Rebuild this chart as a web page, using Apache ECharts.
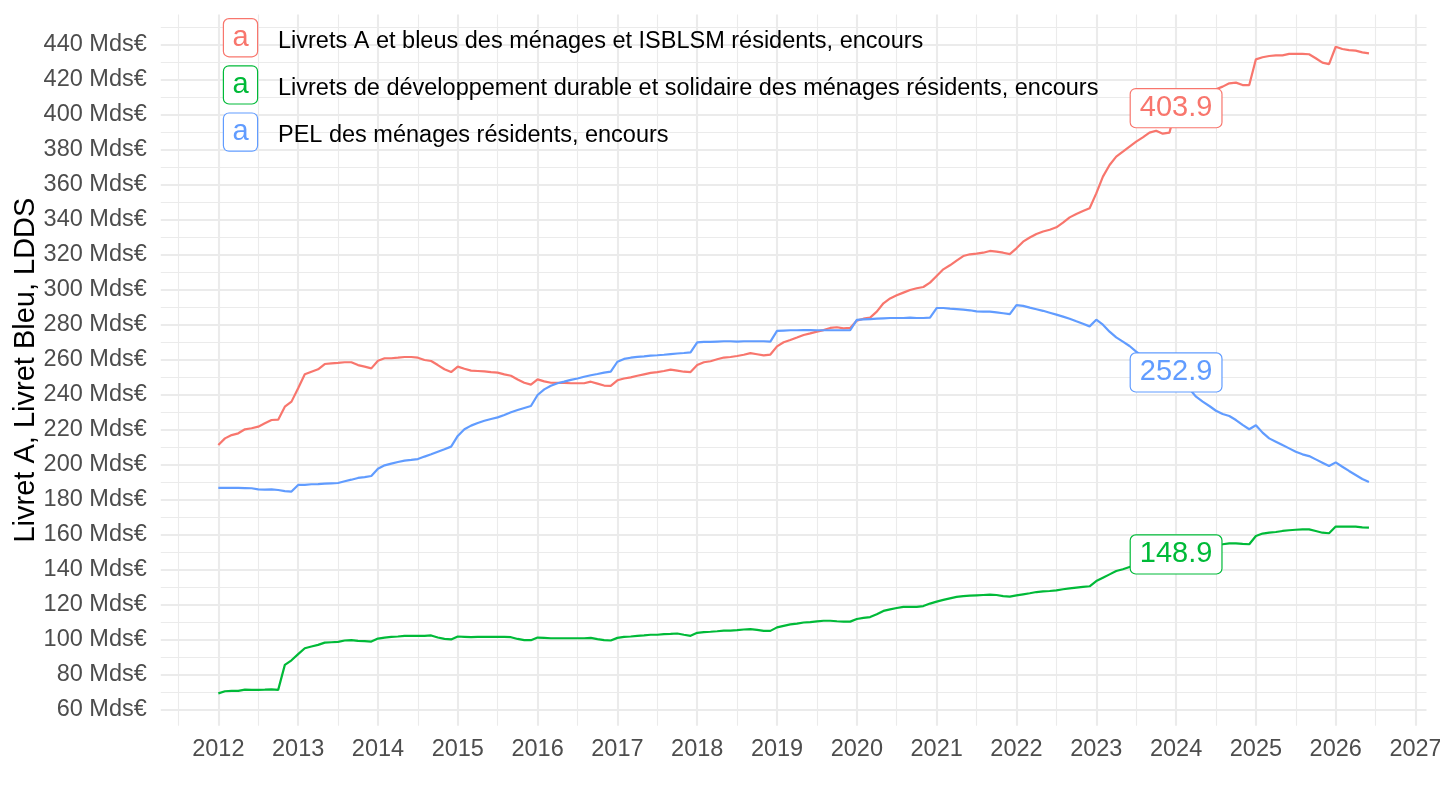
<!DOCTYPE html>
<html>
<head>
<meta charset="utf-8">
<title>Livret A, Livret Bleu, LDDS</title>
<script src="https://cdn.jsdelivr.net/npm/echarts@6.0.0/dist/echarts.min.js"></script>
<style>
    html, body { margin: 0; padding: 0; background: #fff; }
    #encoursChart { width: 1440px; height: 810px; }
</style>
</head>
<body>
<div id="encoursChart"></div>
<script>
// monthly series, first point = janvier 2012
var startYear = 2012;

var seriesNames = [
    'Livrets A et bleus des ménages et ISBLSM résidents, encours',
    'Livrets de développement durable et solidaire des ménages résidents, encours',
    'PEL des ménages résidents, encours'
];
var seriesColors = ['#F8766D', '#00BA38', '#619CFF'];

var livretA = [
    211.4, 215.2, 217.1, 218.1, 220.4, 221.0, 221.9, 223.8, 225.7, 225.9, 233.3, 236.2,
    243.9, 251.8, 253.3, 254.7, 257.7, 258.1, 258.3, 258.7, 258.7, 257.1, 256.2, 255.2,
    259.6, 261.0, 261.0, 261.3, 261.7, 261.7, 261.3, 260.0, 259.4, 257.1, 254.7, 253.1,
    256.2, 255.0, 253.9, 253.7, 253.5, 253.1, 252.8, 251.8, 251.0, 248.9, 247.0, 245.9,
    248.9, 247.8, 247.0, 246.9, 246.9, 246.7, 246.7, 246.7, 247.6, 246.5, 245.4, 245.2,
    248.4, 249.4, 250.1, 251.0, 251.8, 252.6, 253.1, 253.7, 254.5, 253.9, 253.3, 253.1,
    257.1, 258.7, 259.3, 260.4, 261.4, 261.7, 262.3, 263.0, 263.9, 263.3, 262.6, 263.1,
    267.8, 270.1, 271.4, 272.8, 274.3, 275.2, 276.2, 277.1, 278.3, 278.7, 278.1, 278.3,
    282.5, 283.6, 284.2, 287.6, 292.4, 295.2, 297.0, 298.5, 300.0, 301.0, 301.7, 304.2,
    308.0, 311.8, 314.1, 316.8, 319.4, 320.4, 320.8, 321.3, 322.3, 321.9, 321.3, 320.5,
    323.8, 327.6, 330.0, 332.0, 333.4, 334.4, 335.8, 338.5, 341.5, 343.4, 345.1, 346.7,
    355.2, 364.8, 371.4, 376.2, 379.0, 381.9, 384.8, 387.2, 389.9, 391.0, 389.3, 389.9,
    403.9, 406.0, 408.0, 410.0, 412.0, 413.5, 414.7, 416.2, 418.1, 418.5, 417.1, 417.1,
    431.8, 433.0, 433.7, 434.1, 434.1, 434.9, 434.9, 434.9, 434.7, 432.4, 429.9, 429.1,
    439.0, 437.7, 437.1, 436.8, 435.8, 435.2
];

var ldds = [
    69.5, 70.7, 70.9, 70.9, 71.6, 71.5, 71.5, 71.6, 71.8, 71.5, 85.8, 88.4,
    91.9, 95.3, 96.3, 97.2, 98.5, 98.7, 98.9, 99.7, 99.9, 99.5, 99.3, 99.1,
    100.8, 101.4, 101.8, 102.0, 102.4, 102.4, 102.4, 102.4, 102.6, 101.4, 100.6, 100.3,
    102.0, 101.8, 101.6, 101.8, 101.8, 101.8, 101.8, 101.8, 101.6, 100.6, 99.9, 99.9,
    101.4, 101.2, 101.0, 101.0, 101.0, 101.0, 101.0, 101.0, 101.2, 100.5, 99.9, 99.7,
    101.2, 101.8, 102.0, 102.4, 102.6, 103.0, 103.0, 103.4, 103.5, 103.7, 103.0, 102.4,
    104.1, 104.5, 104.7, 105.0, 105.4, 105.4, 105.6, 106.0, 106.2, 105.8, 105.2, 105.2,
    107.2, 108.1, 108.9, 109.4, 110.0, 110.2, 110.6, 111.0, 111.0, 110.7, 110.5, 110.5,
    112.0, 112.6, 113.1, 114.7, 116.6, 117.5, 118.3, 118.9, 118.9, 118.9, 119.4, 120.8,
    121.9, 122.9, 123.8, 124.6, 125.1, 125.3, 125.5, 125.7, 125.9, 125.7, 125.1, 124.8,
    125.5, 126.1, 126.7, 127.4, 127.8, 128.0, 128.4, 129.0, 129.5, 129.9, 130.3, 130.7,
    133.7, 135.6, 137.5, 139.4, 140.4, 141.7, 143.0, 144.0, 145.0, 146.0, 147.0, 147.8,
    148.9, 150.0, 151.0, 152.0, 153.0, 153.8, 154.5, 154.7, 155.2, 155.2, 154.9, 154.7,
    159.4, 160.8, 161.3, 161.7, 162.3, 162.7, 163.0, 163.2, 163.2, 162.3, 161.3, 161.0,
    164.8, 164.8, 164.8, 164.8, 164.4, 164.2
];

var pel = [
    186.9, 186.9, 186.9, 186.9, 186.8, 186.7, 186.1, 185.9, 186.1, 185.7, 185.1, 184.8,
    188.6, 188.6, 189.0, 189.1, 189.3, 189.5, 189.7, 190.7, 191.6, 192.6, 193.1, 193.7,
    197.9, 199.8, 200.8, 201.7, 202.5, 202.9, 203.4, 204.8, 206.1, 207.6, 209.0, 210.5,
    216.6, 220.4, 222.5, 224.0, 225.3, 226.3, 227.2, 228.6, 230.1, 231.4, 232.6, 233.7,
    240.0, 243.2, 245.3, 246.7, 247.6, 248.6, 249.4, 250.4, 251.3, 252.0, 252.8, 253.3,
    259.0, 260.6, 261.3, 261.8, 262.1, 262.5, 262.7, 263.0, 263.4, 263.7, 264.0, 264.4,
    270.1, 270.3, 270.3, 270.5, 270.7, 270.7, 270.5, 270.7, 270.7, 270.7, 270.7, 270.5,
    276.6, 276.8, 277.0, 277.0, 277.1, 277.1, 277.0, 277.0, 277.0, 277.0, 277.0, 277.0,
    282.9, 283.2, 283.4, 283.6, 283.8, 284.0, 284.0, 284.0, 284.2, 284.0, 284.0, 284.2,
    289.7, 289.7, 289.3, 289.1, 288.8, 288.4, 287.8, 287.6, 287.6, 287.2, 286.7, 286.2,
    291.4, 290.9, 289.9, 289.0, 288.1, 287.0, 285.9, 284.8, 283.6, 282.1, 280.7, 279.2,
    283.0, 280.2, 276.2, 272.9, 270.5, 268.0, 264.8, 262.0, 259.5, 257.0, 254.5, 251.5,
    252.9, 248.0, 243.5, 239.0, 236.2, 233.7, 231.0, 229.1, 228.0, 225.7, 222.9, 220.4,
    222.7, 218.5, 215.2, 213.3, 211.4, 209.5, 207.6, 206.1, 205.1, 203.2, 201.3, 199.4,
    201.5, 199.0, 196.6, 194.3, 192.0, 190.3
];

// boxed labels are put on janvier 2024
var labelIndex = 144;

var xMajor = [2012, 2013, 2014, 2015, 2016, 2017, 2018, 2019, 2020, 2021, 2022, 2023, 2024, 2025, 2026, 2027];
var xMinor = [2011.5, 2012.5, 2013.5, 2014.5, 2015.5, 2016.5, 2017.5, 2018.5, 2019.5, 2020.5, 2021.5, 2022.5, 2023.5, 2024.5, 2025.5, 2026.5];
var yMajor = [60, 80, 100, 120, 140, 160, 180, 200, 220, 240, 260, 280, 300, 320, 340, 360, 380, 400, 420, 440];
var yMinor = [70, 90, 110, 130, 150, 170, 190, 210, 230, 250, 270, 290, 310, 330, 350, 370, 390, 410, 430, 450];

var allSeries = [livretA, ldds, pel];

function toPoints(arr) {
    return arr.map(function (v, i) { return [startYear + i / 12, v]; });
}

// ggplot-like 5% padding around the data range
var n = livretA.length;
var xLo = startYear, xHi = startYear + (n - 1) / 12;
var yLo = Math.min.apply(null, allSeries.map(function (s) { return Math.min.apply(null, s); }));
var yHi = Math.max.apply(null, allSeries.map(function (s) { return Math.max.apply(null, s); }));
var xPad = (xHi - xLo) * 0.05, yPad = (yHi - yLo) * 0.05;
var xMin = xLo - xPad, xMax = xHi + xPad, yMin = yLo - yPad, yMax = yHi + yPad;

var font = '"Liberation Sans", Arial, Helvetica, sans-serif';
var gridColor = '#EBEBEB';

var encoursChart = echarts.init(document.getElementById('encoursChart'));

var richLegend = {
    t: { fontSize: 23.5, color: '#000000', fontFamily: font, padding: [7, 0, 0, 21], verticalAlign: 'middle' }
};
seriesColors.forEach(function (c, i) {
    richLegend['k' + i] = {
        width: 33, height: 37, lineHeight: 37, align: 'center', verticalAlign: 'middle',
        fontSize: 29, fontFamily: font, color: c,
        backgroundColor: '#ffffff', borderColor: c, borderWidth: 1.2, borderRadius: 5
    };
});

var lineSeries = allSeries.map(function (arr, i) {
    return {
        name: seriesNames[i],
        type: 'line',
        xAxisIndex: 0,
        yAxisIndex: 0,
        data: toPoints(arr),
        showSymbol: false,
        symbol: 'none',
        lineStyle: { width: 2.2, color: seriesColors[i] },
        itemStyle: { color: seriesColors[i] },
        z: 3
    };
});

var labelSeries = {
    name: 'labels',
    type: 'scatter',
    xAxisIndex: 0,
    yAxisIndex: 0,
    symbolSize: 0,
    itemStyle: { opacity: 1 },
    z: 5,
    data: allSeries.map(function (arr, i) {
        return {
            value: [startYear + labelIndex / 12, arr[labelIndex]],
            label: {
                show: true,
                position: 'inside',
                formatter: arr[labelIndex].toFixed(1),
                fontSize: 29,
                lineHeight: 30,
                fontFamily: font,
                color: seriesColors[i],
                opacity: 1,
                backgroundColor: '#ffffff',
                borderColor: seriesColors[i],
                borderWidth: 1.2,
                borderRadius: 5,
                padding: [5, 9, 3, 9]
            }
        };
    })
};

var option = {
    animation: false,
    backgroundColor: '#ffffff',
    textStyle: { fontFamily: font },
    grid: { left: 160.8, right: 13.5, top: 14.4, bottom: 84.3, outerBoundsMode: 'none', containLabel: false },
    legend: {
        data: seriesNames,
        orient: 'vertical',
        left: 219,
        top: 18,
        padding: 0,
        itemGap: 7.8,
        icon: 'none',
        itemWidth: 0,
        itemHeight: 38,
        selectedMode: false,
        formatter: function (name) {
            return '{k' + seriesNames.indexOf(name) + '|a}{t|' + name + '}';
        },
        textStyle: { fontFamily: font, rich: richLegend }
    },
    xAxis: [
        {
            type: 'value',
            min: xMin,
            max: xMax,
            axisLine: { show: false },
            axisTick: { show: false, customValues: xMajor },
            axisLabel: {
                customValues: xMajor,
                formatter: function (v) { return String(Math.round(v)); },
                color: '#4D4D4D',
                fontSize: 23.5,
                fontFamily: font,
                margin: 12
            },
            splitLine: { show: true, lineStyle: { color: gridColor, width: 2.1 } }
        },
        {
            type: 'value',
            min: xMin,
            max: xMax,
            axisLine: { show: false },
            axisTick: { show: false, customValues: xMinor },
            axisLabel: { show: false },
            splitLine: { show: true, lineStyle: { color: gridColor, width: 1.1 } }
        }
    ],
    yAxis: [
        {
            type: 'value',
            min: yMin,
            max: yMax,
            name: 'Livret A, Livret Bleu, LDDS',
            nameLocation: 'middle',
            nameGap: 120,
            nameMoveOverlap: false,
            nameTextStyle: { fontSize: 29, color: '#000000', fontFamily: font },
            axisLine: { show: false },
            axisTick: { show: false, customValues: yMajor },
            axisLabel: {
                customValues: yMajor,
                formatter: function (v) { return Math.round(v) + ' Mds€'; },
                color: '#4D4D4D',
                fontSize: 23.5,
                fontFamily: font,
                margin: 14,
                padding: [3, 0, 0, 0]
            },
            splitLine: { show: true, lineStyle: { color: gridColor, width: 2.1 } }
        },
        {
            type: 'value',
            min: yMin,
            max: yMax,
            position: 'left',
            axisLine: { show: false },
            axisTick: { show: false, customValues: yMinor },
            axisLabel: { show: false },
            splitLine: { show: true, lineStyle: { color: gridColor, width: 1.1 } }
        }
    ],
    series: lineSeries.concat([labelSeries])
};

encoursChart.setOption(option);
window.addEventListener('resize', function () {
    encoursChart.resize();
});
</script>
</body>
</html>
